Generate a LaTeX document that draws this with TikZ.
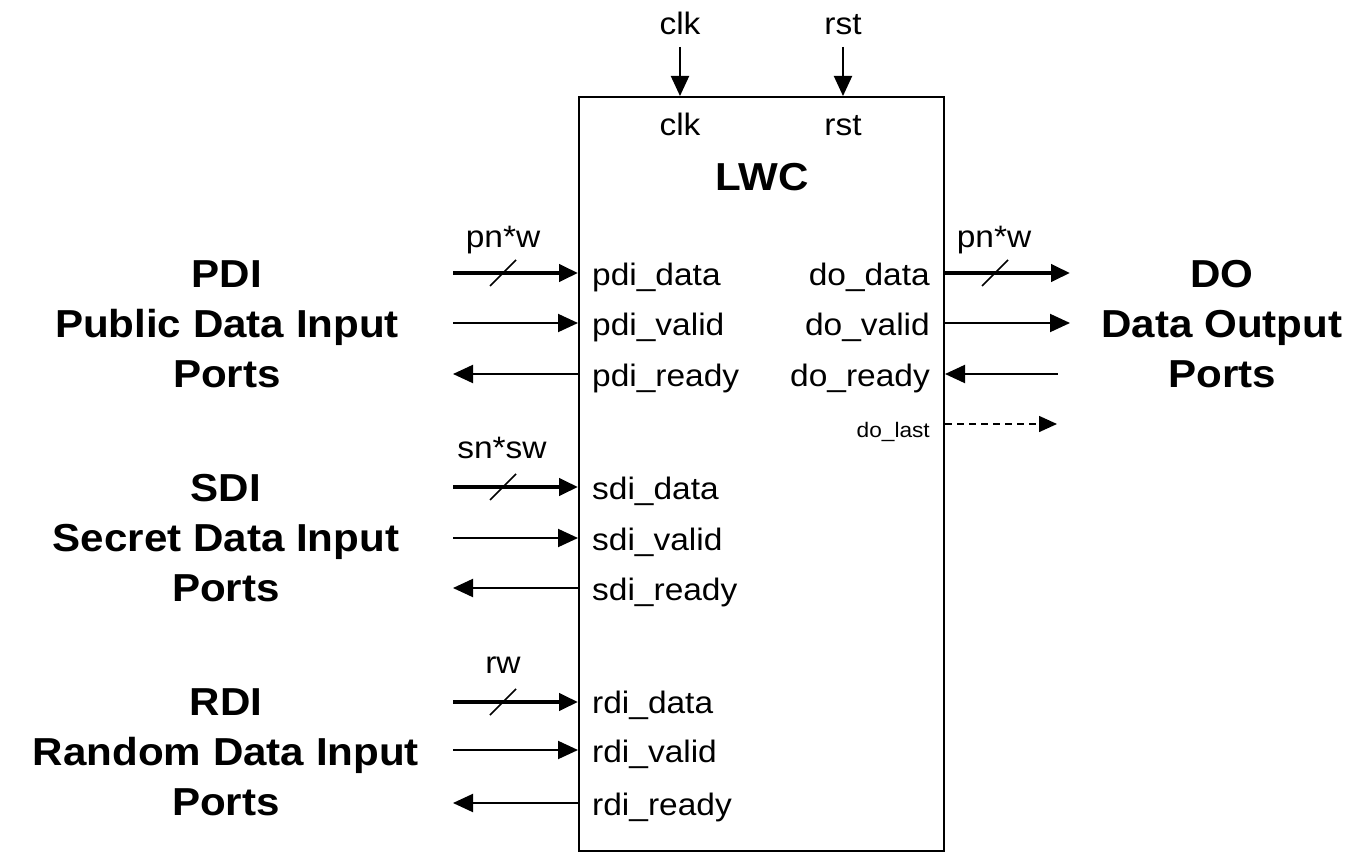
\documentclass[tikz,border=0pt]{standalone}
\usepackage{fontspec}
\setmainfont{Liberation Sans}[FakeStretch=1.08]
\usetikzlibrary{arrows.meta}
\begin{document}
\begin{tikzpicture}[x=1pt,y=-1pt,
  lab/.style={inner sep=0pt, font=\fontsize{31}{31}\selectfont},
  smalllab/.style={inner sep=0pt, font=\fontsize{21}{21}\selectfont},
  big/.style={inner sep=0pt, font=\fontsize{39}{39}\selectfont\bfseries},
  sig/.style={line width=2pt, -{Triangle[length=20pt,width=18pt]}},
  bus/.style={line width=4.2pt, -{Triangle[length=19pt,width=17pt]}},
  rsig/.style={line width=2pt, {Triangle[length=20pt,width=18pt]}-},
  dsig/.style={line width=1.5pt, dash pattern=on 7pt off 5pt, -{Triangle[length=18pt,width=16pt]}},
  slash/.style={line width=1.7pt},
  boxst/.style={draw, line width=2pt, inner sep=0pt, minimum width=365pt, minimum height=754pt}]
\useasboundingbox (0,0) rectangle (1366,856);
\fill[white] (0,0) rectangle (1366,856);

% main block
\node[boxst] (lwc) at (761.5,474) {};
\node[big, anchor=base] (lwcT) at (762,190) {LWC};

% clk / rst
\node[lab, anchor=base] (clkO) at (680,35) {clk};
\node[lab, anchor=base] (rstO) at (843,35) {rst};
\node[lab, anchor=base] (clkI) at (680,136) {clk};
\node[lab, anchor=base] (rstI) at (843,136) {rst};
\coordinate (clkS) at (680,47);
\coordinate (rstS) at (843,47);
\draw[sig] (clkS) -- (clkS |- lwc.north);
\draw[sig] (rstS) -- (rstS |- lwc.north);

% left outer labels
\node[big, anchor=base] (pdiA) at (227,287) {PDI};
\node[big, anchor=base] (pdiB) at (227,337) {Public Data Input};
\node[big, anchor=base] (pdiC) at (227,387) {Ports};
\node[big, anchor=base] (sdiA) at (226,501) {SDI};
\node[big, anchor=base] (sdiB) at (226,551) {Secret Data Input};
\node[big, anchor=base] (sdiC) at (226,601) {Ports};
\node[big, anchor=base] (rdiA) at (226,715) {RDI};
\node[big, anchor=base] (rdiB) at (226,765) {Random Data Input};
\node[big, anchor=base] (rdiC) at (226,815) {Ports};

% right outer labels
\node[big, anchor=base] (doA) at (1222,287) {DO};
\node[big, anchor=base] (doB) at (1222,337) {Data Output};
\node[big, anchor=base] (doC) at (1222,387) {Ports};

% left port labels
\node[lab, anchor=base west] (pdiData) at (592,285) {pdi\_data};
\node[lab, anchor=base west] (pdiValid) at (592,335) {pdi\_valid};
\node[lab, anchor=base west] (pdiReady) at (592,386) {pdi\_ready};
\node[lab, anchor=base west] (sdiData) at (592,499) {sdi\_data};
\node[lab, anchor=base west] (sdiValid) at (592,550) {sdi\_valid};
\node[lab, anchor=base west] (sdiReady) at (592,600) {sdi\_ready};
\node[lab, anchor=base west] (rdiData) at (592,713) {rdi\_data};
\node[lab, anchor=base west] (rdiValid) at (592,762) {rdi\_valid};
\node[lab, anchor=base west] (rdiReady) at (592,815) {rdi\_ready};

% right port labels
\node[lab, anchor=base east] (doData) at (930,285) {do\_data};
\node[lab, anchor=base east] (doValid) at (930,335) {do\_valid};
\node[lab, anchor=base east] (doReady) at (930,386) {do\_ready};
\node[smalllab, anchor=base east] (doLast) at (930,437) {do\_last};

% outer end points
\coordinate (pdiD) at (453,273);
\coordinate (pdiV) at (453,323);
\coordinate (pdiR) at (453,374);
\coordinate (sdiD) at (453,487);
\coordinate (sdiV) at (453,538);
\coordinate (sdiR) at (453,588);
\coordinate (rdiD) at (453,702);
\coordinate (rdiV) at (453,750);
\coordinate (rdiR) at (453,803);
\coordinate (doD) at (1070,273);
\coordinate (doV) at (1070,323);
\coordinate (doR) at (1058,374);
\coordinate (doL) at (1057,424);

% left connectors
\draw[bus] (pdiD) -- (pdiD -| lwc.west);
\draw[sig] (pdiV) -- (pdiV -| lwc.west);
\draw[rsig] (pdiR) -- (pdiR -| lwc.west);
\draw[bus] (sdiD) -- (sdiD -| lwc.west);
\draw[sig] (sdiV) -- (sdiV -| lwc.west);
\draw[rsig] (sdiR) -- (sdiR -| lwc.west);
\draw[bus] (rdiD) -- (rdiD -| lwc.west);
\draw[sig] (rdiV) -- (rdiV -| lwc.west);
\draw[rsig] (rdiR) -- (rdiR -| lwc.west);

% right connectors
\draw[bus] (doD -| lwc.east) -- (doD);
\draw[sig] (doV -| lwc.east) -- (doV);
\draw[rsig] (doR -| lwc.east) -- (doR);
\draw[dsig] (doL -| lwc.east) -- (doL);

% bus width slashes and labels
\draw[slash] (490,286) -- (516,260);
\draw[slash] (490,500) -- (516,474);
\draw[slash] (490,715) -- (516,689);
\draw[slash] (982,286) -- (1008,260);
\node[lab, anchor=base] (pdiW) at (503,247) {pn*w};
\node[lab, anchor=base] (sdiW) at (502,458) {sn*sw};
\node[lab, anchor=base] (rdiW) at (503,673) {rw};
\node[lab, anchor=base] (doW) at (994,247) {pn*w};
\end{tikzpicture}
\end{document}
